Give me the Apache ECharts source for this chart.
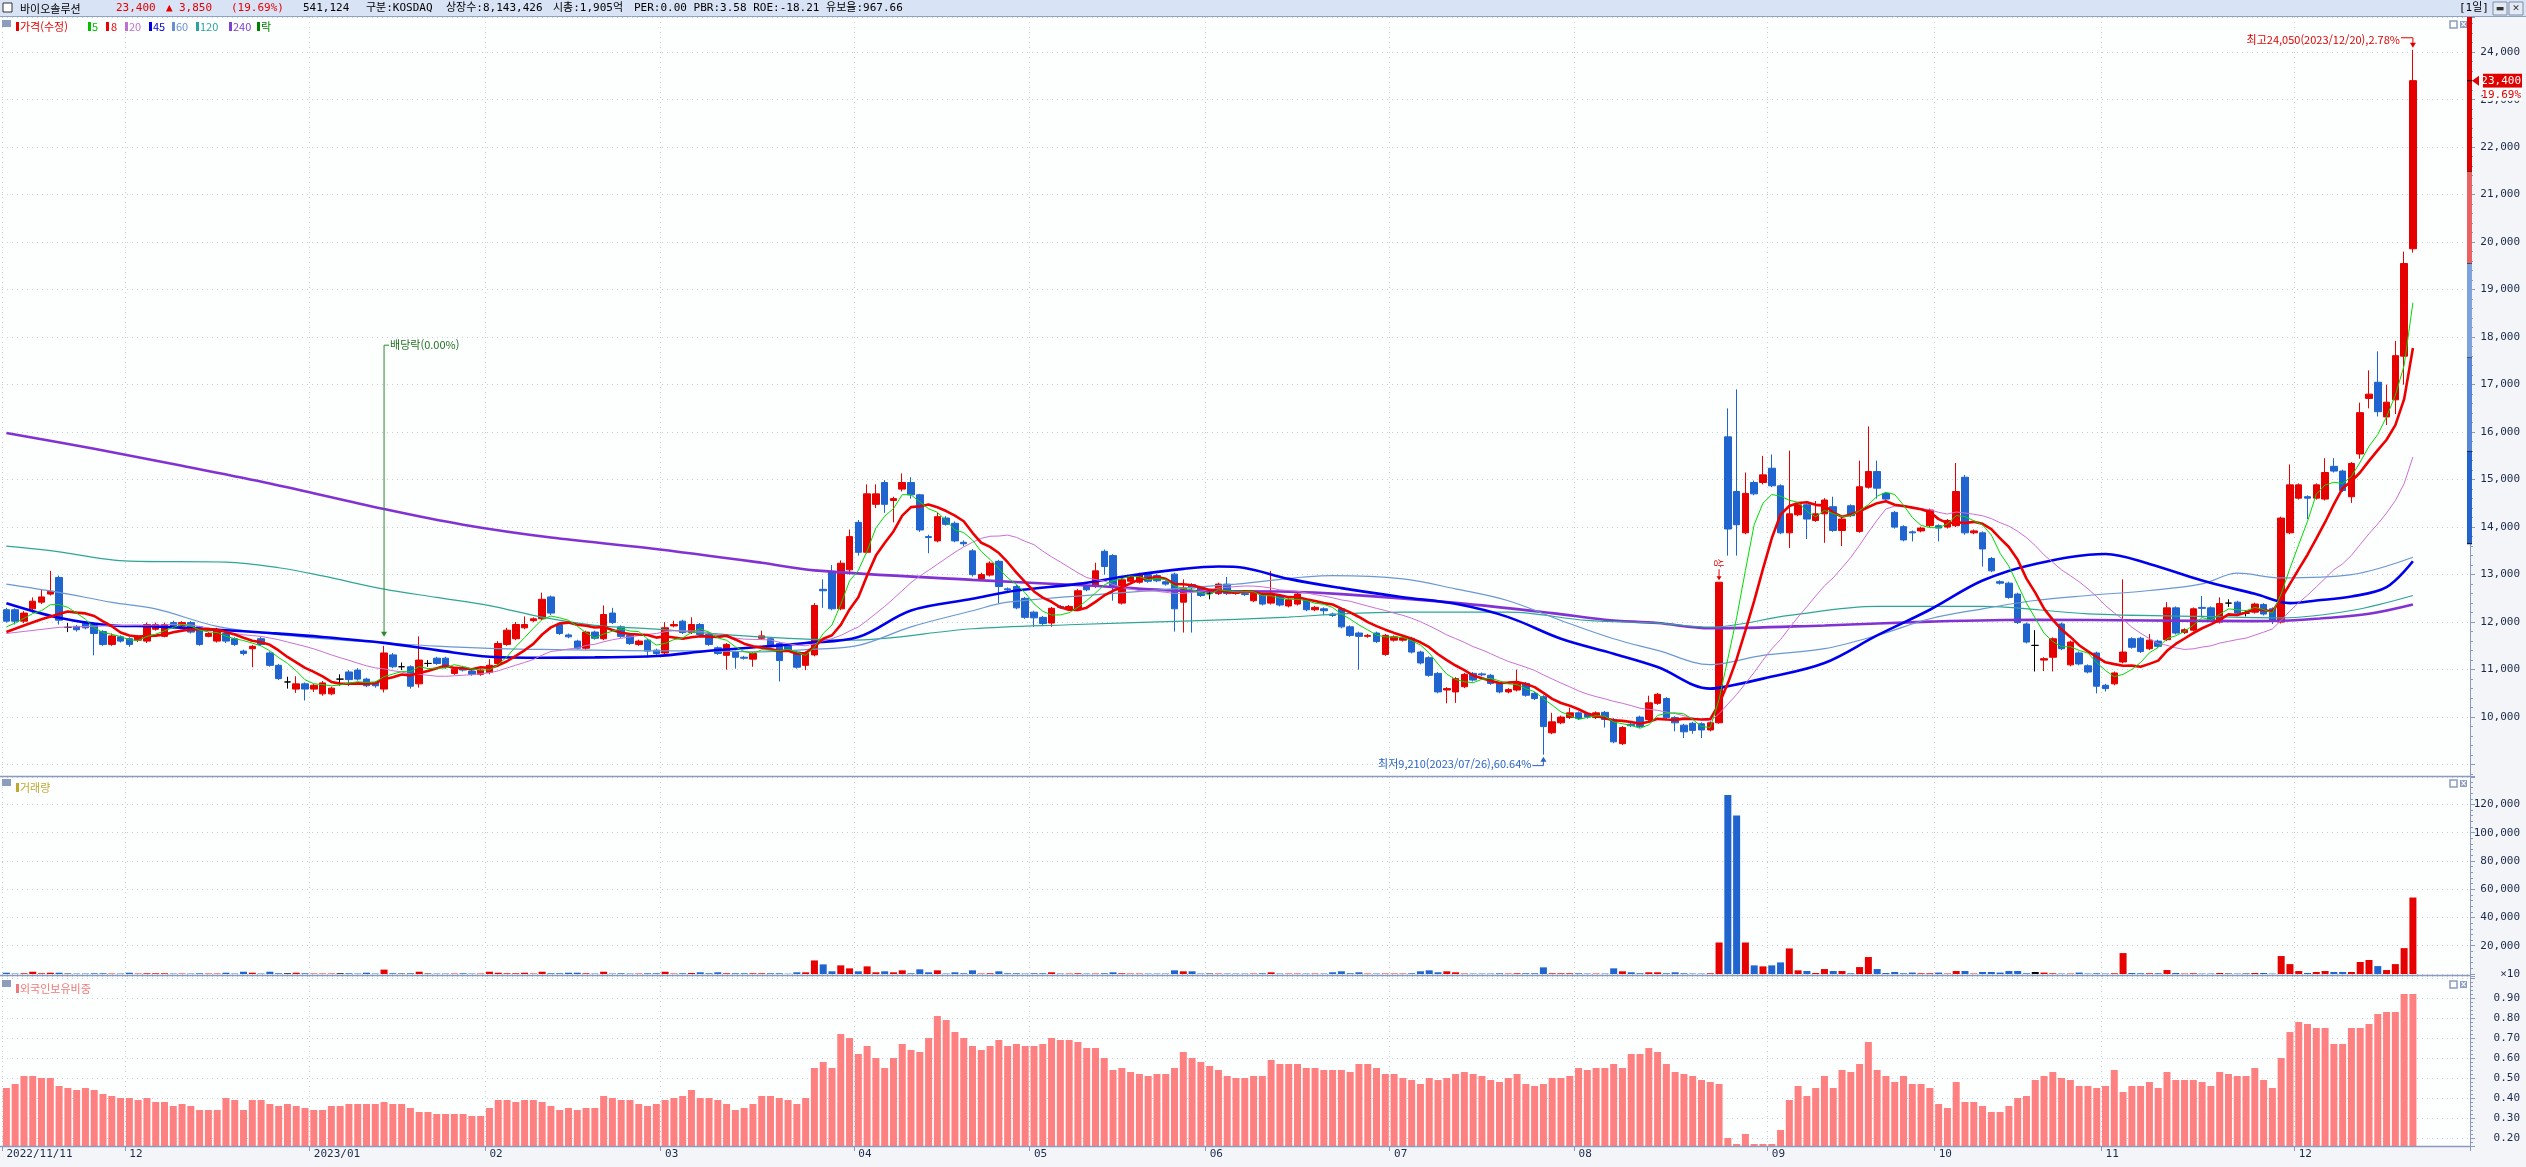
<!DOCTYPE html>
<html lang="ko"><head><meta charset="utf-8">
<script src="https://cdn.jsdelivr.net/npm/echarts/dist/echarts.min.js"></script>
<style>
html,body{margin:0;padding:0;background:#fdfefe;overflow:hidden;}
#chart{width:2526px;height:1167px;}
</style></head><body><div id="chart"></div>
<script>
// ================= DATA =================
const stockName = '바이오솔루션';
const headerFields = ['541,124', '구분:KOSDAQ', '상장수:8,143,426', '시총:1,905억', 'PER:0.00 PBR:3.58 ROE:-18.21 유보율:967.66'];
const periodLabel = '[1일]';
const holidays = ['2022-12-30','2023-01-23','2023-01-24','2023-03-01','2023-05-01','2023-05-05','2023-05-29',
  '2023-06-06','2023-08-15','2023-09-28','2023-09-29','2023-10-02','2023-10-03','2023-10-09'];
const firstDay = [2022, 11, 11];
const lastDay = [2023, 12, 20];
const emptySlots = 6;

const opens = [
12260,12260,12020,12280,12420,12590,12940,11890,11910,11990,
11950,11800,11530,11690,11650,11620,11600,11850,11700,11990,
11920,11990,11900,11700,11600,11760,11650,11390,11440,11650,
11350,11090,10740,10590,10700,10590,10490,10490,10800,10950,
10990,10800,10720,10590,11310,11060,11060,10700,11130,11240,
11240,10920,11050,10970,10900,10940,11130,11530,11650,11880,
12030,12070,12530,11950,11730,11600,11450,11790,11650,12190,
11900,11720,11530,11620,11410,11350,11920,12020,11780,11950,
11740,11460,11300,11370,11260,11220,11660,11650,11550,11500,
11370,11090,11310,12690,13070,12280,13100,14100,13470,14480,
14940,14560,14800,14940,14680,13800,13710,14190,14080,13680,
13500,12910,12990,13280,12700,12750,12500,12210,12100,11980,
12330,12260,12260,12750,12750,13490,13400,12400,12860,12840,
13000,12980,12850,13010,12420,12790,12730,12610,12600,12800,
12630,12600,12450,12590,12400,12560,12340,12380,12470,12260,
12280,12170,12280,11900,11770,11700,11770,11320,11620,11620,
11660,11370,11250,10920,10570,10530,10640,10920,10910,10880,
10710,10530,10570,10710,10500,10430,9670,9880,9990,10090,
10080,9990,10100,9950,9440,9850,10000,9950,10290,10390,
9990,9830,9870,9860,9730,9880,15900,14750,13880,14940,
14940,15240,14870,13880,14260,14470,14140,14280,14430,13930,
14450,13910,14840,15170,14710,14310,14010,13900,13920,14030,
14030,14000,14030,15050,13880,13880,13340,12850,12820,12590,
11960,11510,11200,11260,11960,11100,11350,11080,11350,10670,
10700,11160,11650,11660,11440,11600,11630,12300,11780,11830,
12310,12300,12000,12400,12420,12190,12210,12370,12280,12000,
13880,14610,14640,14610,14590,15280,15180,14640,15540,16710,
17050,16320,16680,17600,19860];
const closes = [
12020,12020,12190,12440,12530,12650,12040,11890,11840,11880,
11760,11530,11710,11600,11530,11700,11950,11950,11950,11900,
11990,11790,11530,11760,11830,11600,11530,11340,11490,11530,
11090,10810,10740,10700,10590,10670,10720,10610,10800,10790,
10800,10660,10660,11350,11060,11060,10650,11200,11130,11130,
11050,11010,10990,10900,10990,11090,11550,11830,11950,11950,
12070,12480,12190,11760,11690,11450,11790,11660,12160,11990,
11700,11550,11600,11390,11340,11880,11950,11780,11950,11740,
11530,11340,11530,11260,11240,11340,11710,11500,11190,11400,
11050,11350,12350,12660,12280,13240,13800,13470,14700,14700,
14480,14600,14940,14680,13940,13780,14220,14060,13710,13650,
13000,13000,13240,12750,12680,12300,12100,12090,11970,12290,
12310,12330,12660,12680,13080,13170,12750,12890,12960,13000,
12860,12870,12800,12280,12720,12720,12560,12610,12800,12600,
12610,12580,12610,12380,12590,12360,12470,12590,12260,12310,
12240,12140,11900,11720,11700,11720,11590,11720,11690,11670,
11370,11140,10880,10530,10600,10810,10900,10780,10890,10710,
10530,10580,10710,10460,10390,9800,9900,10000,10090,9970,
10000,10090,9950,9480,9780,9820,9800,10300,10480,9990,
9880,9690,9720,9730,9880,12840,13960,14050,14710,14700,
15100,14870,13880,14280,14470,14170,14280,14570,13930,14170,
14240,14850,15170,14820,14590,14000,13730,13880,13980,14360,
13980,14140,14750,13880,13920,13540,13080,12820,12520,11990,
11580,11510,11230,11650,11440,11580,11120,10950,10650,10600,
10930,11370,11470,11380,11620,11490,12300,11770,11840,12280,
12290,12030,12390,12400,12190,12190,12380,12170,12030,14190,
14890,14890,14610,14890,15150,15180,14770,15340,16410,16800,
16430,16630,17610,19550,23400];
const highs = [
12300,12290,12230,12520,12690,13080,12980,11980,11940,12020,
11980,11830,11760,11720,11680,11730,11990,11990,11990,12030,
12020,12020,11920,11790,11880,11790,11680,11420,11520,11690,
11380,11120,10850,10860,10730,10700,10760,10640,10900,10990,
11030,10830,10750,11500,11350,11150,11090,11700,11200,11270,
11270,11040,11080,11000,11020,11220,11600,11880,12000,12120,
12100,12620,12560,11990,11760,11630,11820,11820,12350,12300,
11930,11750,11630,11650,11440,12000,12030,12050,12100,11980,
11770,11490,11560,11400,11290,11370,11820,11680,11580,11530,
11400,11380,12400,12900,13200,13300,13950,14150,14900,14900,
14990,14640,15130,15050,14700,13840,14300,14230,14120,13720,
13540,13040,13280,13310,12730,12780,12530,12240,12130,12320,
12360,12360,12700,12780,13250,13530,13430,12930,13000,13040,
13040,13010,12880,13040,12900,12820,12760,12700,12830,12950,
12660,12630,12640,12620,13080,12590,12500,12620,12500,12340,
12310,12200,12310,11930,11800,11750,11800,11750,11720,11700,
11690,11400,11280,10950,10630,10840,10930,10950,10940,10910,
10740,10610,11000,10740,10530,10460,10090,10030,10200,10120,
10110,10120,10130,9980,9810,9880,10030,10450,10510,10420,
10020,9860,9900,9890,9910,12840,16500,16900,15150,14980,
15500,15530,14900,15610,14510,14500,14550,14610,14640,14200,
14480,15400,16120,15400,14740,14340,14040,13930,14010,14390,
14060,14170,15350,15100,13950,13910,13370,12880,12850,12620,
11990,11830,11260,11680,11990,11610,11380,11110,11380,10700,
10960,12900,11680,11690,11750,11630,12420,12330,11870,12310,
12550,12330,12520,12480,12450,12250,12410,12400,12310,14220,
15320,14920,14670,14920,15450,15450,15210,15370,16620,17300,
17700,17000,17920,19800,24050];
const lows = [
11990,11950,11980,12200,12380,12560,11950,11790,11800,11850,
11300,11500,11500,11570,11480,11580,11560,11820,11680,11870,
11890,11760,11500,11680,11570,11560,11500,11300,11050,11500,
11060,10780,10600,10510,10350,10530,10450,10460,10660,10650,
10770,10630,10620,10520,11030,10990,10600,10620,11060,11100,
11020,10890,10960,10870,10870,10900,11100,11500,11620,11850,
12000,12040,12150,11730,11660,11420,11420,11630,11620,11960,
11670,11520,11500,11260,11310,11320,11890,11750,11750,11710,
11500,11310,11000,11020,11210,11060,11630,11470,10750,11370,
11020,10990,11280,12300,12250,12250,13000,13400,13440,14400,
14300,14100,14750,14600,13900,13450,13680,14030,13680,13600,
12960,12880,12960,12400,12640,12270,12070,11900,11940,11900,
12280,12230,12230,12650,12720,13000,12450,12370,12830,12810,
12830,12840,12770,11800,11780,11780,12530,12480,12570,12570,
12580,12550,12420,12350,12370,12330,12310,12350,12230,12230,
12150,12110,11870,11690,11000,11670,11560,11290,11590,11590,
11340,11110,10850,10500,10290,10300,10610,10750,10860,10680,
10500,10500,10540,10430,10360,9210,9640,9850,9960,9940,
9970,9960,9780,9450,9410,9790,9770,9920,10260,9960,
9700,9560,9650,9560,9700,9860,13400,13400,13850,14670,
14900,14840,13850,13560,14230,13750,14110,13670,13900,13600,
14210,13880,14810,14600,14560,13970,13700,13700,13890,14000,
13700,13970,14000,13840,13850,13170,13050,12790,12490,11960,
11550,10960,10970,10960,11410,11070,11090,10920,10500,10540,
10670,11130,11440,11350,11410,11460,11600,11740,11750,11800,
12100,12000,11970,12320,12160,12120,12180,12140,11960,11970,
13850,14580,14170,14580,14560,15150,14740,14510,15440,16500,
16330,16150,16380,17000,19780];
// volume, in units of 10 shares (the axis shows "×10")
const volumes = [
900,300,500,1600,500,900,900,300,300,300,
500,500,300,300,900,300,500,500,500,300,
300,300,500,300,300,900,300,1600,900,300,
1600,500,500,900,500,300,300,300,500,500,
300,900,300,3100,500,300,500,1600,300,300,
300,300,500,300,300,1600,900,500,500,900,
300,1600,500,500,900,900,500,300,1600,300,
500,300,300,500,500,1600,300,500,700,1200,
500,1200,500,500,500,500,500,500,500,200,
1200,1200,9600,6800,1900,6100,4000,1900,5400,1200,
1900,1200,2600,500,3300,1200,2600,300,1200,500,
2600,300,500,1900,500,500,300,500,500,1200,
300,300,500,300,300,500,1200,500,300,300,
300,300,300,2600,1900,1900,300,300,300,300,
300,300,300,500,1200,300,300,300,300,300,
300,1200,1900,500,1200,300,300,300,300,300,
500,1900,2600,1200,1900,1200,300,300,300,300,
500,300,500,500,500,4700,500,500,500,500,
300,300,300,4000,1900,1200,500,1200,1200,500,
1200,500,300,300,500,22300,126700,112100,22300,6100,
5400,6100,8200,18100,2600,2100,700,3500,2100,2100,
500,4900,12000,3500,700,1400,500,1000,500,500,
1000,300,2100,2100,300,1400,1400,1000,2100,2100,
500,1400,1000,500,300,300,1000,300,500,300,
500,14800,700,500,500,500,2800,700,300,500,
300,300,700,300,300,300,700,700,300,12700,
7000,2100,700,1400,2100,1400,1400,1400,8500,9900,
5600,2800,7000,18300,54112];
const foreignRatio = [
0.45,0.47,0.51,0.51,0.50,0.50,0.46,0.45,0.44,0.45,
0.44,0.42,0.41,0.40,0.40,0.39,0.40,0.38,0.38,0.36,
0.37,0.36,0.34,0.34,0.34,0.40,0.39,0.34,0.39,0.39,
0.37,0.36,0.37,0.36,0.35,0.34,0.34,0.36,0.36,0.37,
0.37,0.37,0.37,0.38,0.37,0.37,0.35,0.33,0.33,0.32,
0.32,0.32,0.32,0.31,0.31,0.35,0.39,0.39,0.38,0.39,
0.39,0.38,0.36,0.34,0.35,0.34,0.35,0.35,0.41,0.40,
0.39,0.39,0.37,0.36,0.37,0.39,0.40,0.41,0.44,0.40,
0.40,0.39,0.37,0.34,0.35,0.37,0.41,0.41,0.40,0.39,
0.37,0.40,0.55,0.58,0.55,0.72,0.70,0.62,0.66,0.60,
0.55,0.60,0.67,0.64,0.63,0.70,0.81,0.79,0.73,0.70,
0.66,0.64,0.66,0.69,0.66,0.67,0.66,0.66,0.67,0.70,
0.69,0.69,0.68,0.65,0.65,0.60,0.54,0.55,0.53,0.52,
0.51,0.52,0.52,0.55,0.63,0.60,0.58,0.56,0.54,0.51,
0.50,0.50,0.51,0.51,0.59,0.57,0.57,0.57,0.55,0.55,
0.54,0.54,0.54,0.53,0.57,0.57,0.55,0.52,0.52,0.50,
0.49,0.47,0.50,0.49,0.50,0.52,0.53,0.52,0.51,0.49,
0.48,0.50,0.52,0.47,0.46,0.47,0.50,0.50,0.51,0.55,
0.54,0.55,0.55,0.57,0.55,0.62,0.62,0.65,0.63,0.57,
0.53,0.52,0.51,0.49,0.48,0.47,0.20,0.17,0.22,0.17,
0.17,0.17,0.24,0.39,0.46,0.41,0.45,0.51,0.45,0.54,
0.53,0.57,0.68,0.54,0.51,0.48,0.51,0.47,0.47,0.45,
0.37,0.35,0.48,0.38,0.38,0.36,0.33,0.33,0.36,0.40,
0.41,0.49,0.51,0.53,0.50,0.49,0.46,0.46,0.45,0.46,
0.54,0.43,0.46,0.46,0.48,0.45,0.53,0.49,0.49,0.49,
0.48,0.46,0.53,0.52,0.51,0.51,0.55,0.49,0.45,0.60,
0.73,0.78,0.77,0.75,0.75,0.67,0.67,0.75,0.75,0.77,
0.82,0.83,0.83,0.92,0.92];
// long moving averages at sample bars: [barIndex, value]
const ma45Read = [[0,12395],[6,12090],[12,11930],[17,11910],[24,11840],[30,11770],[36,11688],[43,11563],[49,11410],[55,11271],[61,11250],[67,11257],[74,11285],[80,11396],[86,11480],[91,11560],[97,11685],[103,12245],[110,12490],[115,12665],[122,12805],[128,12980],[134,13120],[138,13170],[141,13140],[146,12910],[152,12715],[159,12525],[165,12385],[171,12105],[177,11650],[183,11335],[188,11055],[194,10600],[196,10650],[200,10810],[207,11140],[213,11720],[219,12260],[225,12875],[231,13225],[239,13435],[244,13225],[250,12875],[256,12595],[260,12400],[263,12455],[267,12540],[271,12735],[274,13280]];
const ma60Read = [[0,12800],[6,12625],[12,12416],[17,12278],[24,11910],[30,11757],[36,11653],[43,11563],[49,11493],[55,11445],[61,11424],[67,11410],[74,11396],[80,11396],[86,11375],[91,11420],[97,11510],[103,11900],[110,12240],[114,12420],[128,12630],[140,12800],[151,12980],[159,12910],[165,12700],[171,12450],[177,12035],[183,11650],[188,11405],[194,11105],[200,11300],[207,11440],[213,11720],[219,12070],[225,12280],[231,12455],[237,12560],[244,12665],[250,12805],[254,13030],[259,12930],[267,13000],[274,13365]];
const ma120Read = [[0,13600],[5,13506],[14,13284],[25,13263],[31,13145],[36,12972],[43,12694],[49,12520],[55,12347],[61,12104],[67,11931],[73,11861],[86,11688],[96,11620],[110,11860],[121,11944],[134,12020],[146,12105],[152,12175],[159,12210],[171,12210],[180,12035],[188,11980],[194,11895],[203,12140],[213,12330],[225,12330],[237,12175],[250,12120],[259,12090],[267,12245],[274,12560]];
const ma240Read = [[0,15980],[10,15650],[20,15290],[30,14920],[43,14380],[52,14050],[62,13780],[73,13560],[86,13250],[92,13090],[110,12890],[123,12770],[134,12660],[146,12640],[152,12590],[165,12405],[176,12190],[182,12050],[188,11980],[194,11870],[207,11930],[219,12010],[231,12050],[244,12035],[256,12020],[260,12035],[263,12070],[269,12175],[274,12370]];
// short averages: the first bars (before a full window exists); the rest computed from closes
const ma5Lead = [[0,11900],[1,11980],[2,12080],[3,12180]];
const ma8Lead = [[0,11790],[2,11930],[4,12060],[6,12170]];
const ma20Lead = [[0,11760],[6,11890],[12,11925],[18,11940]];
const exDividend = { index: 43, text: '배당락(0.00%)', from: 11690, to: 17830 };
const upperLimitIndex = 195;
const rangeBands = [[24740,21480],[21480,19550],[19550,17560],[17560,15590],[15590,13650]];

// ================= BUILD =================
const pad2 = n => (n < 10 ? '0' : '') + n;
const dates = [];
(function () {
  let d = new Date(Date.UTC(firstDay[0], firstDay[1] - 1, firstDay[2]));
  const end = Date.UTC(lastDay[0], lastDay[1] - 1, lastDay[2]);
  while (d.getTime() <= end) {
    const wd = d.getUTCDay();
    const key = d.getUTCFullYear() + '-' + pad2(d.getUTCMonth() + 1) + '-' + pad2(d.getUTCDate());
    if (wd !== 0 && wd !== 6 && holidays.indexOf(key) < 0) dates.push(key.replace(/-/g, '/'));
    d = new Date(d.getTime() + 86400000);
  }
})();
const N = closes.length;
const categories = dates.slice(0, N);
for (let k = 0; k < emptySlots; k++) categories.push('pad' + k);
const isMonthStart = i => i < N && (i === 0 || dates[i].slice(0, 7) !== dates[i - 1].slice(0, 7));
const monthLabel = i => {
  if (i === 0) return dates[0];
  const m = dates[i].slice(5, 7);
  return m === '01' ? dates[i].slice(0, 7) : m;
};
const fmt = v => v.toLocaleString('en-US');
function movingAverage(src, n, lead) {
  const out = lead.slice();
  for (let i = n - 1; i < src.length; i++) {
    let s = 0; for (let k = i - n + 1; k <= i; k++) s += src[k];
    out.push([i, Math.round(s / n)]);
  }
  return out;
}
const RED = '#e60000', BLUE = '#1f64cf', BLACK = '#000000';
const candleColor = i => closes[i] > opens[i] ? RED : (closes[i] < opens[i] ? BLUE : BLACK);
const lastIdx = N - 1, lastClose = closes[lastIdx], prevClose = closes[lastIdx - 1];
const change = lastClose - prevClose;
const changePct = (change / prevClose * 100).toFixed(2);
let hiIdx = 0, loIdx = 0;
for (let i = 0; i < N; i++) { if (highs[i] > highs[hiIdx]) hiIdx = i; if (lows[i] < lows[loIdx]) loIdx = i; }
const hiLabel = '최고' + fmt(highs[hiIdx]) + '(' + dates[hiIdx] + '),' + ((highs[hiIdx] - lastClose) / lastClose * 100).toFixed(2) + '%';
const loLabel = '최저' + fmt(lows[loIdx]) + '(' + dates[loIdx] + '),' + ((lastClose - lows[loIdx]) / lastClose * 100).toFixed(2) + '%';

const KFONT = '11px "Noto Sans CJK KR", sans-serif';
const MFONT = '11px "DejaVu Sans Mono", "Noto Sans CJK KR", monospace';
const AXC = '#1c2a4a', FRAME = '#8a9bbd', GRIDC = '#c6cdd7';
const dotted = { type: [1, 4], color: GRIDC, width: 1 };

const maStyles = {
  5: { color: '#00dd00', width: 1 }, 8: { color: '#ee0000', width: 2.6 }, 20: { color: '#cc70d6', width: 1 },
  45: { color: '#0000ee', width: 2.6 }, 60: { color: '#6b98d4', width: 1.2 }, 120: { color: '#2fa595', width: 1.2 },
  240: { color: '#8232d2', width: 2.6 }
};

// ---------- axes ----------
function catAxis(gi, showLabels) {
  return {
    type: 'category', gridIndex: gi, data: categories, boundaryGap: true,
    axisLine: { show: showLabels, lineStyle: { color: FRAME, width: 1 } },
    axisTick: { show: showLabels, interval: isMonthStart, length: 5, lineStyle: { color: FRAME } },
    axisLabel: {
      show: showLabels, interval: isMonthStart, formatter: (v, i) => monthLabel(i),
      align: 'left', margin: 3, color: AXC, fontFamily: 'DejaVu Sans Mono', fontSize: 11
    },
    splitLine: { show: true, interval: isMonthStart, lineStyle: dotted }
  };
}
function valAxis(gi, extra) {
  return Object.assign({
    type: 'value', gridIndex: gi, position: 'right', scale: true,
    axisLine: { show: true, lineStyle: { color: FRAME, width: 1 } },
    axisTick: { show: true, length: 5, lineStyle: { color: FRAME } },
    minorTick: { show: true, splitNumber: 5, length: 3, lineStyle: { color: FRAME } },
    splitLine: { show: true, lineStyle: dotted },
    minorSplitLine: { show: false }
  }, extra);
}
const labelBase = { align: 'right', margin: 50, color: AXC, fontFamily: 'DejaVu Sans Mono', fontSize: 11, showMinLabel: true, showMaxLabel: true };

// ---------- graphics (frame, header, legends) ----------
const gfx = [];
gfx.push({ type: 'rect', z: -10, silent: true, shape: { x: 2471, y: 17, width: 55, height: 1130 }, style: { fill: '#f3f5f8' } });
gfx.push({ type: 'rect', z: -10, silent: true, shape: { x: 0, y: 1147, width: 2526, height: 20 }, style: { fill: '#f3f5f8' } });
gfx.push({ type: 'rect', z: 50, silent: true, shape: { x: 0, y: 0, width: 2526, height: 16 }, style: { fill: '#d8e3f5' } });
gfx.push({ type: 'line', z: 50, silent: true, shape: { x1: 0, y1: 16.5, x2: 2526, y2: 16.5 }, style: { stroke: '#8ea2c6', lineWidth: 1 } });
[776.5, 975.5, 1146.5].forEach(y => gfx.push({ type: 'line', z: 50, silent: true, shape: { x1: 0, y1: y, x2: 2471, y2: y }, style: { stroke: FRAME, lineWidth: 1.5 } }));
gfx.push({ type: 'rect', z: 51, silent: true, shape: { x: 3, y: 3, width: 9, height: 9 }, style: { fill: '#fff', stroke: '#333', lineWidth: 1 } });
const headerSegs = [
  [20, stockName, '#000', '11px "Noto Sans CJK KR"'],
  [116, fmt(lastClose), RED, MFONT], [166, '▲', RED, MFONT], [179, fmt(change), RED, MFONT],
  [231, '(' + changePct + '%)', RED, MFONT],
  [303, headerFields[0], '#000', MFONT], [366, headerFields[1], '#000', MFONT], [446, headerFields[2], '#000', MFONT],
  [553, headerFields[3], '#000', MFONT], [634, headerFields[4], '#000', MFONT]
];
headerSegs.forEach(s => gfx.push({ type: 'text', z: 52, silent: true, x: s[0], y: 8.5, style: { text: s[1], fill: s[2], font: s[3], verticalAlign: 'middle' } }));
gfx.push({ type: 'text', z: 52, silent: true, x: 2459, y: 8.5, style: { text: periodLabel, fill: '#000', font: MFONT, verticalAlign: 'middle' } });
[[2493, '▬'], [2509, '✕']].forEach(b => {
  gfx.push({ type: 'rect', z: 52, silent: true, shape: { x: b[0], y: 2, width: 14, height: 13 }, style: { fill: '#e4eaf3', stroke: '#7d8ea8', lineWidth: 1 } });
  gfx.push({ type: 'text', z: 53, silent: true, x: b[0] + 7, y: 9, style: { text: b[1], fill: '#333', font: 'bold 9px "DejaVu Sans"', align: 'center', verticalAlign: 'middle' } });
});
// pane corner squares, pane buttons
[[20, 26], [779, 787], [980, 988]].forEach(p => {
  gfx.push({ type: 'rect', z: 52, silent: true, shape: { x: 2, y: p[0], width: 9, height: 7 }, style: { fill: '#8c9dbd' } });
  gfx.push({ type: 'rect', z: 52, silent: true, shape: { x: 2450, y: p[0] + 1, width: 7, height: 7 }, style: { fill: '#fff', stroke: '#8c9dbd', lineWidth: 1.5 } });
  gfx.push({ type: 'rect', z: 52, silent: true, shape: { x: 2460, y: p[0] + 1, width: 7, height: 7 }, style: { fill: '#8c9dbd' } });
  gfx.push({ type: 'text', z: 53, silent: true, x: 2463.5, y: p[0] + 4.5, style: { text: '×', fill: '#fff', font: 'bold 8px "DejaVu Sans"', align: 'center', verticalAlign: 'middle' } });
});
const legendSegs = [
  [16, 20, '가격(수정)', RED], [88, 92, '5', '#00c000'], [106, 111, '8', '#ee0000'], [125, 129, '20', '#c070d0'],
  [149, 153, '45', '#0000e0'], [172, 176, '60', '#6890d0'], [196, 200, '120', '#2fa0a0'], [229, 233, '240', '#8040d0'],
  [257, 261, '락', '#008000']
];
legendSegs.forEach(s => {
  gfx.push({ type: 'rect', z: 52, silent: true, shape: { x: s[0], y: 22, width: 3, height: 9 }, style: { fill: s[3] } });
  gfx.push({ type: 'text', z: 52, silent: true, x: s[1], y: 26.5, style: { text: s[2], fill: s[3], font: KFONT, verticalAlign: 'middle' } });
});
gfx.push({ type: 'rect', z: 52, silent: true, shape: { x: 16, y: 783, width: 3, height: 9 }, style: { fill: '#c0a830' } });
gfx.push({ type: 'text', z: 52, silent: true, x: 20, y: 787.5, style: { text: '거래량', fill: '#c0a830', font: KFONT, verticalAlign: 'middle' } });
gfx.push({ type: 'rect', z: 52, silent: true, shape: { x: 16, y: 984, width: 3, height: 9 }, style: { fill: '#f07878' } });
gfx.push({ type: 'text', z: 52, silent: true, x: 20, y: 988.5, style: { text: '외국인보유비중', fill: '#f07878', font: KFONT, verticalAlign: 'middle' } });

// ---------- series ----------
const series = [];
series.push({
  type: 'candlestick', name: '가격', xAxisIndex: 0, yAxisIndex: 0, barWidth: 7, z: 3,
  data: opens.map((o, i) => [o, closes[i], lows[i], highs[i]]),
  itemStyle: { color: RED, color0: BLUE, borderColor: RED, borderColor0: BLUE, borderColorDoji: BLACK, borderWidth: 1 }
});
const readMap = { 45: ma45Read, 60: ma60Read, 120: ma120Read, 240: ma240Read };
const leadMap = { 5: ma5Lead, 8: ma8Lead, 20: ma20Lead };
[240, 120, 60, 45, 20, 8, 5].forEach(p => {
  const st = maStyles[p];
  const computed = !!leadMap[p];
  series.push({
    type: 'line', name: 'MA' + p, xAxisIndex: 0, yAxisIndex: 0, z: 4,
    data: computed ? movingAverage(closes, p, leadMap[p]) : readMap[p],
    smooth: computed ? false : 0.35, showSymbol: false, symbol: 'none', silent: true,
    lineStyle: { color: st.color, width: st.width }
  });
});
// annotations
series.push({
  type: 'custom', name: 'hiMark', xAxisIndex: 0, yAxisIndex: 0, clip: false, z: 20, silent: true,
  data: [[hiIdx, highs[hiIdx]]],
  renderItem: (params, api) => {
    const p = api.coord([api.value(0), api.value(1)]);
    return { type: 'group', children: [
      { type: 'text', style: { text: hiLabel, x: p[0] - 13, y: p[1] - 10, align: 'right', verticalAlign: 'middle', fill: '#e00000', font: KFONT } },
      { type: 'polyline', shape: { points: [[p[0] - 12, p[1] - 12], [p[0], p[1] - 12], [p[0], p[1] - 4]] }, style: { stroke: '#e00000', lineWidth: 1, fill: null } },
      { type: 'polygon', shape: { points: [[p[0] - 3, p[1] - 7], [p[0] + 3, p[1] - 7], [p[0], p[1] - 2]] }, style: { fill: '#e00000' } }
    ] };
  }
});
series.push({
  type: 'custom', name: 'loMark', xAxisIndex: 0, yAxisIndex: 0, clip: false, z: 20, silent: true,
  data: [[loIdx, lows[loIdx]]],
  renderItem: (params, api) => {
    const p = api.coord([api.value(0), api.value(1)]);
    return { type: 'group', children: [
      { type: 'text', style: { text: loLabel, x: p[0] - 12, y: p[1] + 9, align: 'right', verticalAlign: 'middle', fill: '#2a62c8', font: KFONT } },
      { type: 'polyline', shape: { points: [[p[0] - 11, p[1] + 11], [p[0], p[1] + 11], [p[0], p[1] + 4]] }, style: { stroke: '#2a62c8', lineWidth: 1, fill: null } },
      { type: 'polygon', shape: { points: [[p[0] - 3, p[1] + 7], [p[0] + 3, p[1] + 7], [p[0], p[1] + 2]] }, style: { fill: '#2a62c8' } }
    ] };
  }
});
series.push({
  type: 'custom', name: 'divMark', xAxisIndex: 0, yAxisIndex: 0, clip: false, z: 20, silent: true,
  encode: { x: 0, y: [1, 2] },
  data: [[exDividend.index, exDividend.from, exDividend.to]],
  renderItem: (params, api) => {
    const a = api.coord([api.value(0), api.value(1)]);
    const b = api.coord([api.value(0), api.value(2)]);
    const c = '#2a8a2a';
    return { type: 'group', children: [
      { type: 'line', shape: { x1: a[0], y1: b[1], x2: a[0], y2: a[1] - 4 }, style: { stroke: c, lineWidth: 1 } },
      { type: 'line', shape: { x1: a[0], y1: b[1], x2: a[0] + 5, y2: b[1] }, style: { stroke: c, lineWidth: 1 } },
      { type: 'polygon', shape: { points: [[a[0] - 3, a[1] - 5], [a[0] + 3, a[1] - 5], [a[0], a[1]]] }, style: { fill: c } },
      { type: 'text', style: { text: exDividend.text, x: a[0] + 6, y: b[1], verticalAlign: 'middle', fill: '#207020', font: KFONT } }
    ] };
  }
});
series.push({
  type: 'custom', name: 'limitMark', xAxisIndex: 0, yAxisIndex: 0, clip: false, z: 20, silent: true,
  data: [[upperLimitIndex, highs[upperLimitIndex]]],
  renderItem: (params, api) => {
    const p = api.coord([api.value(0), api.value(1)]);
    return { type: 'group', children: [
      { type: 'line', shape: { x1: p[0], y1: p[1] - 13, x2: p[0], y2: p[1] - 3 }, style: { stroke: '#e00000', lineWidth: 1 } },
      { type: 'polygon', shape: { points: [[p[0] - 2.5, p[1] - 6], [p[0] + 2.5, p[1] - 6], [p[0], p[1] - 2]] }, style: { fill: '#e00000' } },
      { type: 'text', x: p[0], y: p[1] - 19, rotation: -Math.PI / 2, style: { text: '상', x: 0, y: 0, align: 'center', verticalAlign: 'middle', fill: '#e00000', font: '10px "Noto Sans CJK KR"' } }
    ] };
  }
});
const bandColors = ['#e00000', '#e86262', '#7ea2dc', '#5886d6', '#2264cc'];
series.push({
  type: 'custom', name: 'rangeStrip', xAxisIndex: 0, yAxisIndex: 0, clip: false, z: 25, silent: true,
  encode: { x: 0, y: [1, 2] },
  data: rangeBands.map((b, k) => [lastIdx, b[0], b[1], k]),
  renderItem: (params, api) => {
    const cs = params.coordSys; const xr = cs.x + cs.width;
    const y1 = api.coord([api.value(0), api.value(1)])[1];
    const y2 = api.coord([api.value(0), api.value(2)])[1];
    return { type: 'group', children: [
      { type: 'rect', shape: { x: xr - 3, y: y1, width: 5, height: y2 - y1 }, style: { fill: bandColors[api.value(3)] } },
      { type: 'line', shape: { x1: xr - 3, y1: y2, x2: xr + 2, y2: y2 }, style: { stroke: '#000', lineWidth: 1 } }
    ] };
  }
});
series.push({
  type: 'custom', name: 'lastPrice', xAxisIndex: 0, yAxisIndex: 0, clip: false, z: 30, silent: true,
  data: [[lastIdx, lastClose]],
  renderItem: (params, api) => {
    const cs = params.coordSys; const xr = cs.x + cs.width;
    const y = api.coord([api.value(0), api.value(1)])[1];
    return { type: 'group', children: [
      { type: 'line', shape: { x1: xr - 3, y1: y, x2: xr + 2, y2: y }, style: { stroke: '#000', lineWidth: 1 } },
      { type: 'polygon', shape: { points: [[xr + 2, y], [xr + 9, y - 5], [xr + 9, y + 5]] }, style: { fill: '#e00000' } },
      { type: 'rect', shape: { x: xr + 13, y: y - 7, width: 39, height: 14 }, style: { fill: '#e00000' } },
      { type: 'text', style: { text: fmt(lastClose), x: xr + 51, y: y, align: 'right', verticalAlign: 'middle', fill: '#fff', font: MFONT } },
      { type: 'rect', shape: { x: xr + 13, y: y + 7, width: 39, height: 13 }, style: { fill: '#fdfefe' } },
      { type: 'text', style: { text: changePct + '%', x: xr + 51, y: y + 14, align: 'right', verticalAlign: 'middle', fill: '#e00000', font: MFONT } }
    ] };
  }
});
series.push({
  type: 'bar', name: '거래량', xAxisIndex: 1, yAxisIndex: 1, barWidth: 7, z: 3, silent: true,
  data: volumes.map((v, i) => ({ value: v, itemStyle: { color: candleColor(i) } }))
});
series.push({
  type: 'bar', name: '외국인보유비중', xAxisIndex: 2, yAxisIndex: 2, barWidth: 7, z: 3, silent: true,
  itemStyle: { color: '#ff8080' }, data: foreignRatio
});

const option = {
  animation: false,
  backgroundColor: '#fdfefe',
  grid: [
    { left: 2, right: 56, top: 17, bottom: 391 },
    { left: 2, right: 56, top: 777, bottom: 193 },
    { left: 2, right: 56, top: 976, bottom: 21 }
  ],
  xAxis: [catAxis(0, false), catAxis(1, false), catAxis(2, true)],
  yAxis: [
    valAxis(0, { min: 8760, max: 24740, splitNumber: 16,
      axisLabel: Object.assign({}, labelBase, { formatter: v => (Math.abs(v % 1000) < 1e-6 && v >= 10000 && v <= 24000) ? fmt(v) : '' }) }),
    valAxis(1, { min: 0, max: 139400, interval: 20000, scale: false,
      axisLabel: Object.assign({}, labelBase, { formatter: v => v === 0 ? '×10' : ((v % 20000 === 0 && v <= 120000) ? fmt(v) : '') }) }),
    valAxis(2, { min: 0.16, max: 1.01, splitNumber: 8,
      axisLabel: Object.assign({}, labelBase, { formatter: v => (v > 0.19 && v < 0.95) ? v.toFixed(2) : '' }) })
  ],
  series: series,
  graphic: { elements: gfx }
};
const chart = echarts.init(document.getElementById('chart'), null, { renderer: 'canvas' });
chart.setOption(option);
</script></body></html>
